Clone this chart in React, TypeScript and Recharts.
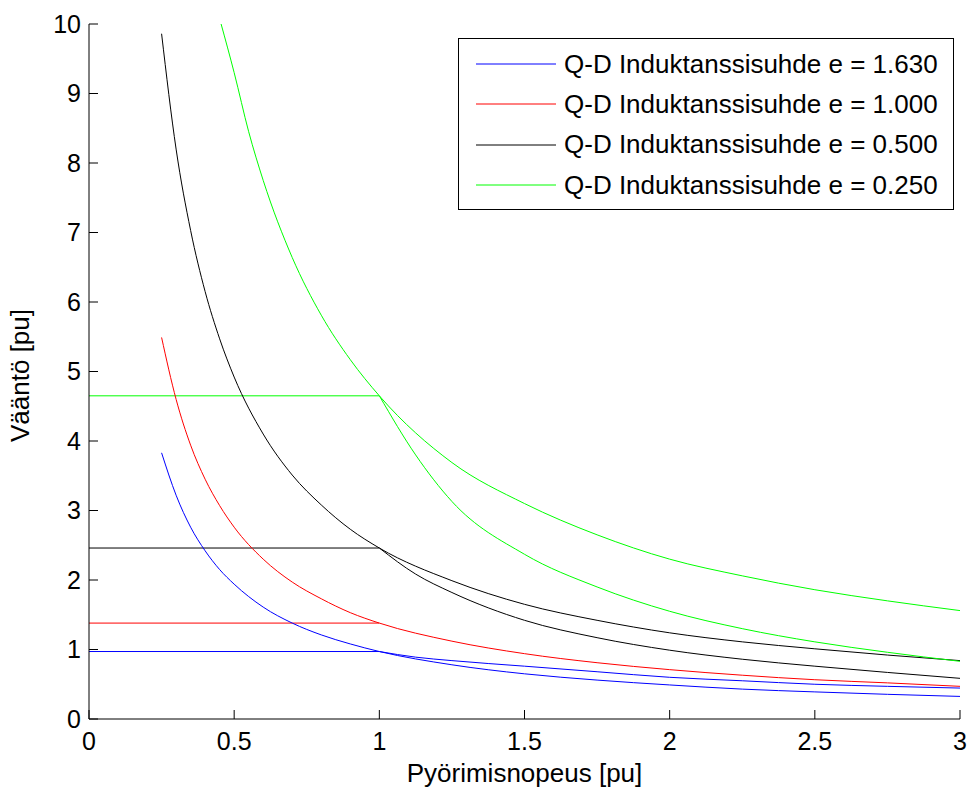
import React from 'react';
import { LineChart, Line, XAxis, YAxis, Legend } from 'recharts';

const FONT = '"Liberation Sans", Arial, Helvetica, sans-serif';

const speedTicks = [0, 0.5, 1, 1.5, 2, 2.5, 3];
const torqueTicks = [0, 1, 2, 3, 4, 5, 6, 7, 8, 9, 10];

const ratioLabels = ['1.630', '1.000', '0.500', '0.250'];
const colors = ['#0000ff', '#ff0000', '#000000', '#00ff00'];

// constant torque level up to nominal speed
const baseSpeed = [0, 1];
const baseTorque = [0.971, 1.38, 2.46, 4.65];

// hyperbolic branch (starts at 0.25 pu)
const hypSpeed = [0.25, 0.3, 0.35, 0.4, 0.45, 0.5, 0.6, 0.7, 0.8, 0.9, 1.0, 1.25, 1.5, 1.75, 2, 2.25, 2.5, 2.75, 3];
const hypBlue = [3.83, 3.22, 2.76, 2.42, 2.15, 1.94, 1.61, 1.38, 1.21, 1.08, 0.971, 0.78, 0.65, 0.56, 0.49, 0.43, 0.39, 0.355, 0.325];
const hypRed = [5.49, 4.6, 3.94, 3.45, 3.07, 2.76, 2.3, 1.97, 1.73, 1.53, 1.38, 1.12, 0.94, 0.81, 0.71, 0.63, 0.565, 0.52, 0.47];
const hypBlack = [9.86, 8.2, 7.03, 6.15, 5.47, 4.92, 4.1, 3.51, 3.08, 2.73, 2.46, 1.99, 1.65, 1.42, 1.24, 1.11, 1.01, 0.92, 0.84];
const hypGreenSpeed = [0.455, 0.5, 0.55, 0.6, 0.7, 0.8, 0.9, 1.0, 1.25, 1.5, 1.75, 2, 2.25, 2.5, 2.75, 3];
const hypGreen = [10.0, 9.3, 8.45, 7.75, 6.64, 5.81, 5.17, 4.65, 3.69, 3.1, 2.65, 2.3, 2.06, 1.86, 1.7, 1.56];

// second branch above nominal speed
const fwSpeed = [1, 1.125, 1.25, 1.5, 1.75, 2, 2.25, 2.5, 2.75, 3];
const fwBlue = [0.971, 0.89, 0.84, 0.76, 0.68, 0.6, 0.55, 0.5, 0.47, 0.445];
const fwBlack = [2.46, 2.085, 1.82, 1.42, 1.17, 0.99, 0.86, 0.76, 0.67, 0.585];
const fwGreen = [4.65, 3.8, 3.13, 2.37, 1.9, 1.55, 1.3, 1.11, 0.96, 0.83];

const pts = (xs: number[], ys: number[]) => xs.map((x, i) => ({ x, y: ys[i] }));

const series = [
  ...baseTorque.map((t, i) => ({ key: `base-${i}`, color: colors[i], data: pts(baseSpeed, [t, t]) })),
  { key: 'hyp-0', color: colors[0], data: pts(hypSpeed, hypBlue) },
  { key: 'hyp-1', color: colors[1], data: pts(hypSpeed, hypRed) },
  { key: 'hyp-2', color: colors[2], data: pts(hypSpeed, hypBlack) },
  { key: 'hyp-3', color: colors[3], data: pts(hypGreenSpeed, hypGreen) },
  { key: 'fw-0', color: colors[0], data: pts(fwSpeed, fwBlue) },
  { key: 'fw-2', color: colors[2], data: pts(fwSpeed, fwBlack) },
  { key: 'fw-3', color: colors[3], data: pts(fwSpeed, fwGreen) },
];

const LegendBox = () => (
  <div
    style={{
      boxSizing: 'border-box',
      width: 496,
      height: 172,
      border: '1px solid #000',
      background: '#fff',
      paddingTop: 5,
      fontFamily: FONT,
      fontSize: 26,
      color: '#000',
    }}
  >
    {ratioLabels.map((r, i) => (
      <div key={r} style={{ height: 40.3, display: 'flex', alignItems: 'center' }}>
        <svg width={105} height={10} style={{ flex: 'none' }}>
          <line x1={17} x2={97} y1={5} y2={5} stroke={colors[i]} strokeWidth={1} />
        </svg>
        <span style={{ whiteSpace: 'nowrap' }}>{`Q-D Induktanssisuhde e = ${r}`}</span>
      </div>
    ))}
  </div>
);

const YTitle = (props: any) => {
  const vb = props.viewBox;
  const cy = vb.y + vb.height / 2 + 4;
  return (
    <text
      x={29}
      y={cy}
      transform={`rotate(-90, 29, ${cy})`}
      textAnchor="middle"
      fontFamily={FONT}
      fontSize={26}
      fill="#000"
    >
      Vääntö [pu]
    </text>
  );
};

const XTitle = (props: any) => {
  const vb = props.viewBox;
  return (
    <text
      x={vb.x + vb.width / 2}
      y={782}
      textAnchor="middle"
      fontFamily={FONT}
      fontSize={26}
      fill="#000"
    >
      Pyörimisnopeus [pu]
    </text>
  );
};

export default function App() {
  return (
    <div style={{ position: 'absolute', left: 0, top: 0, width: 972, height: 790, background: '#fff' }}>
      <LineChart width={972} height={790} margin={{ top: 24, right: 12, bottom: 0, left: 0 }}>
        <XAxis
          dataKey="x"
          type="number"
          domain={[0, 3]}
          ticks={speedTicks}
          allowDuplicatedCategory={false}
          height={71}
          stroke="#000"
          tickSize={-9}
          tickMargin={22}
          tick={{ fill: '#000', fontSize: 25, fontFamily: FONT }}
          label={<XTitle />}
        />
        <YAxis
          type="number"
          domain={[0, 10]}
          ticks={torqueTicks}
          width={89}
          stroke="#000"
          tickSize={-9}
          tickMargin={17}
          tick={{ fill: '#000', fontSize: 25, fontFamily: FONT }}
          label={<YTitle />}
        />
        <Legend
          content={<LegendBox />}
          layout="vertical"
          align="center"
          verticalAlign="middle"
          wrapperStyle={{ left: 458, top: 38, width: 496, height: 172 }}
        />
        {series.map((s) => (
          <Line
            key={s.key}
            data={s.data}
            dataKey="y"
            type="monotone"
            stroke={s.color}
            strokeWidth={1}
            dot={false}
            activeDot={false}
            legendType="none"
            isAnimationActive={false}
          />
        ))}
      </LineChart>
    </div>
  );
}
